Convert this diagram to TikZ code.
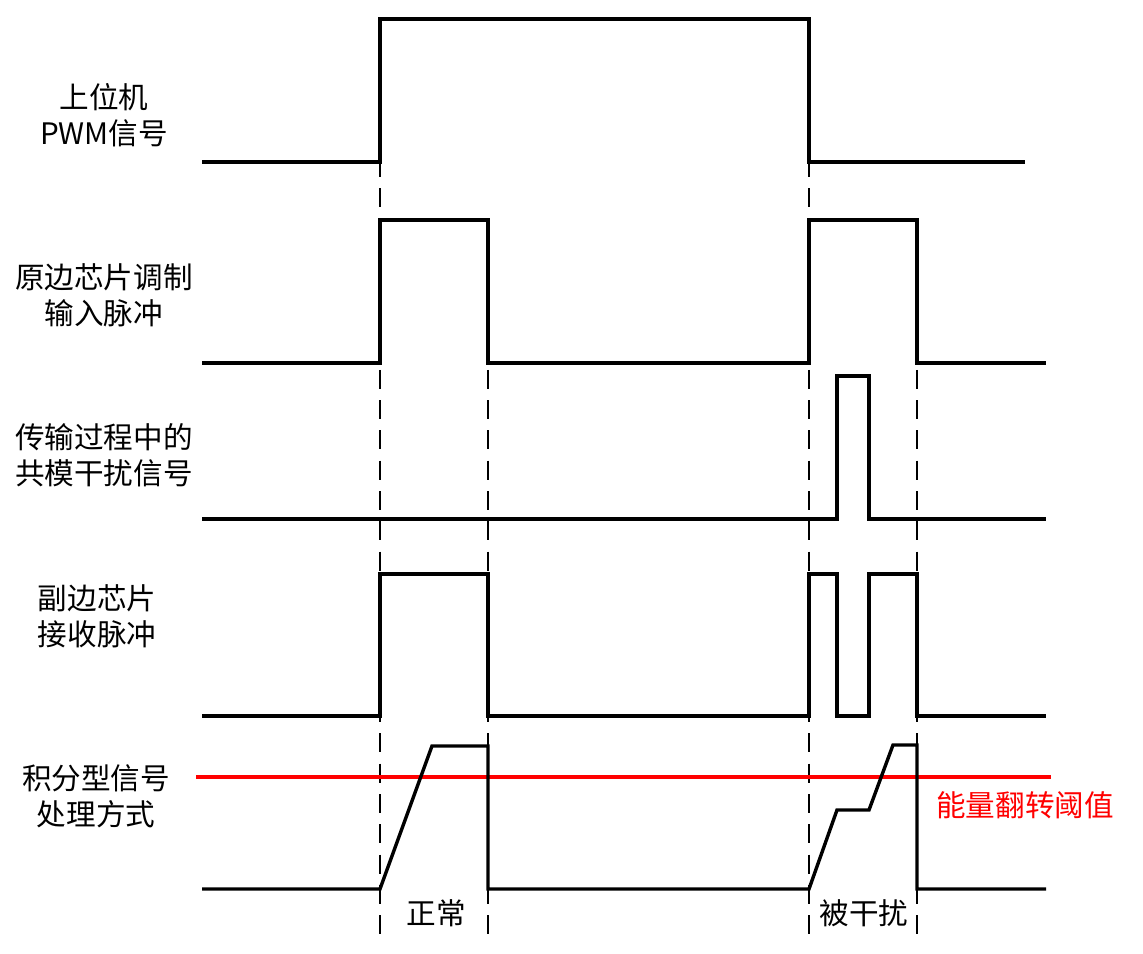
\documentclass[tikz,border=0pt]{standalone}
\usepackage{fontspec}
\setmainfont{Noto Sans CJK SC}
\begin{document}
\begin{tikzpicture}[x=1pt,y=-1pt,
  sig/.style={line width=3.4pt,line join=miter,black},
  guide/.style={line width=2.4pt,dash pattern=on 19pt off 11.3pt,black},
  lbl/.style={inner sep=0pt,font=\fontsize{29.6}{36}\selectfont,align=center,text=black},
  thr/.style={line width=3.4pt,red}]
\useasboundingbox[fill=white] (0,0) rectangle (1143,953);
% guides
\coordinate (g1a) at (380,157.7); \coordinate (g1b) at (380,936);
\coordinate (g2a) at (488,339.5); \coordinate (g2b) at (488,936);
\coordinate (g3a) at (809,157.7); \coordinate (g3b) at (809,934);
\coordinate (g4a) at (917,339.5); \coordinate (g4b) at (917,934);
\draw[guide] (g1a) -- (g1b);
\draw[guide] (g2a) -- (g2b);
\draw[guide] (g3a) -- (g3b);
\draw[guide] (g4a) -- (g4b);
% threshold
\coordinate (t1) at (196,777); \coordinate (t2) at (1051,777);
\draw[thr] (t1) -- (t2);
% signals
\draw[sig] (202,162) -- (380,162) -- (380,19) -- (809,19) -- (809,162) -- (1025,162);
\draw[sig] (202,363) -- (380,363) -- (380,220) -- (488,220) -- (488,363) -- (809,363) -- (809,220) -- (917,220) -- (917,363) -- (1046,363);
\draw[sig] (202,519) -- (837,519) -- (837,376) -- (869,376) -- (869,519) -- (1046,519);
\draw[sig] (202,716) -- (380,716) -- (380,574) -- (488,574) -- (488,716) -- (809,716) -- (809,574) -- (837,574) -- (837,716) -- (869,716) -- (869,574) -- (917,574) -- (917,716) -- (1046,716);
\draw[sig] (202,889) -- (380,889) -- (432,746) -- (488,746) -- (488,889) -- (809,889) -- (837,810) -- (869,810) -- (893,745) -- (917,745) -- (917,889) -- (1046,889);
% labels
\node[lbl] (l1) at (104,115) {上位机\\PWM信号};
\node[lbl] (l2) at (104,295) {原边芯片调制\\输入脉冲};
\node[lbl] (l3) at (104,455) {传输过程中的\\共模干扰信号};
\node[lbl] (l4) at (97,616) {副边芯片\\接收脉冲};
\node[lbl] (l5) at (96,796) {积分型信号\\处理方式};
\node[lbl] (n1) at (436,913) {正常};
\node[lbl] (n2) at (864,913) {被干扰};
\node[lbl,text=red] (th) at (1025,805) {能量翻转阈值};
\end{tikzpicture}
\end{document}
